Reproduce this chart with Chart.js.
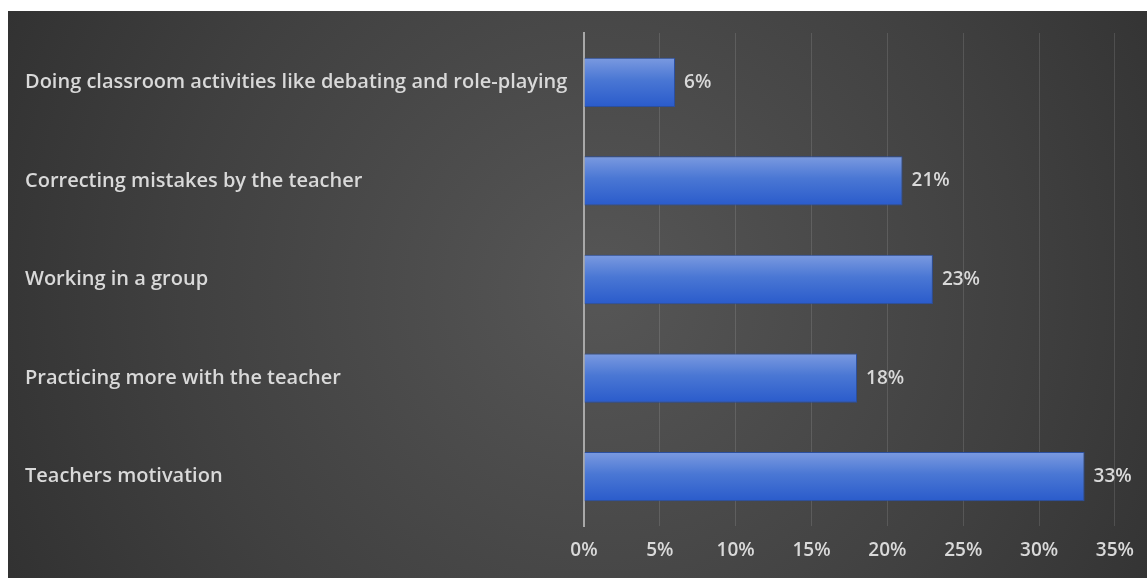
<!DOCTYPE html>
<html lang="en">
<head>
  <meta charset="UTF-8">
  <title>Teaching preferences</title>
  <script src="https://cdn.jsdelivr.net/npm/chart.js"></script>
  <style>
    html, body { margin: 0; padding: 0; background: #ffffff; }
    #wrap { width: 1147px; height: 578px; position: relative; }
  </style>
</head>
<body>
  <div id="wrap"><canvas id="myCanvas"></canvas></div>

<script>
  // dados do grafico
  const categorias = [
    "Doing classroom activities like debating and role-playing",
    "Correcting mistakes by the teacher",
    "Working in a group",
    "Practicing more with the teacher",
    "Teachers motivation",
  ];
  const valores = [6, 21, 23, 18, 33];
  const ticksX = [0, 5, 10, 15, 20, 25, 30, 35];

  const corTexto = "#d9d9d9";
  const fonte = "'Open Sans', 'Noto Sans', sans-serif";

  // fundo escuro com gradiente radial e margem branca
  const fundo = {
    id: "fundo",
    beforeDraw(chart) {
      const c = chart.ctx;
      c.save();
      c.fillStyle = "#ffffff";
      c.fillRect(0, 0, chart.width, chart.height);
      const g = c.createRadialGradient(600, 290, 20, 600, 290, 820);
      g.addColorStop(0, "#555555");
      g.addColorStop(0.5, "#404040");
      g.addColorStop(1, "#282828");
      c.fillStyle = g;
      c.fillRect(8, 11, chart.width - 8, chart.height - 11);
      c.restore();
    },
  };

  // rotulos de valor na ponta das barras
  const rotulos = {
    id: "rotulos",
    afterDatasetsDraw(chart) {
      const c = chart.ctx;
      const meta = chart.getDatasetMeta(0);
      c.save();
      c.fillStyle = corTexto;
      c.font = "600 19px " + fonte;
      c.textBaseline = "middle";
      c.textAlign = "left";
      meta.data.forEach((bar, i) => {
        c.fillText(valores[i] + "%", bar.x + 9, bar.y);
      });
      c.restore();
    },
  };

  // gradiente vertical de cada barra
  function corBarra(ctx) {
    const chart = ctx.chart;
    const escala = chart.scales && chart.scales.y;
    if (!escala || ctx.dataIndex === undefined) return "#4472c4";
    const meio = escala.getPixelForValue(ctx.dataIndex);
    const h = (escala.height / categorias.length) * 0.5;
    if (!isFinite(meio) || !isFinite(h)) return "#4472c4";
    const g = chart.ctx.createLinearGradient(0, meio - h / 2, 0, meio + h / 2);
    g.addColorStop(0, "#7b9ae0");
    g.addColorStop(0.45, "#4a77d4");
    g.addColorStop(1, "#2a5bcb");
    return g;
  }

  const config = {
    type: "bar",
    data: {
      labels: categorias,
      datasets: [
        {
          label: "Percent",
          data: valores,
          backgroundColor: corBarra,
          borderColor: "#2b4f9e",
          borderWidth: 1,
          barPercentage: 0.5,
          categoryPercentage: 1,
        },
      ],
    },
    options: {
      indexAxis: "y",
      responsive: true,
      maintainAspectRatio: false,
      animation: false,
      layout: { padding: { left: 25, top: 33, right: 32, bottom: 0 } },
      plugins: {
        legend: { display: false },
        tooltip: { enabled: false },
      },
      scales: {
        x: {
          min: 0,
          max: 35,
          afterBuildTicks(axis) {
            axis.ticks = ticksX.map((v) => ({ value: v }));
          },
          afterFit(axis) {
            axis.height = 52;
          },
          grid: {
            color: "rgba(255,255,255,0.12)",
            lineWidth: 1,
            drawTicks: false,
          },
          border: { display: false },
          ticks: {
            color: corTexto,
            padding: 13,
            font: { family: fonte, size: 19, weight: "600" },
            callback: (v) => v + "%",
          },
        },
        y: {
          afterFit(axis) {
            axis.width = 559;
          },
          grid: { display: false, drawTicks: false },
          border: { display: true, color: "#a8a8a8", width: 2 },
          ticks: {
            color: corTexto,
            crossAlign: "far",
            font: { family: fonte, size: 20, weight: "600" },
          },
        },
      },
    },
    plugins: [fundo, rotulos],
  };

  const myChart = new Chart(document.getElementById("myCanvas"), config);
</script>
</body>
</html>
